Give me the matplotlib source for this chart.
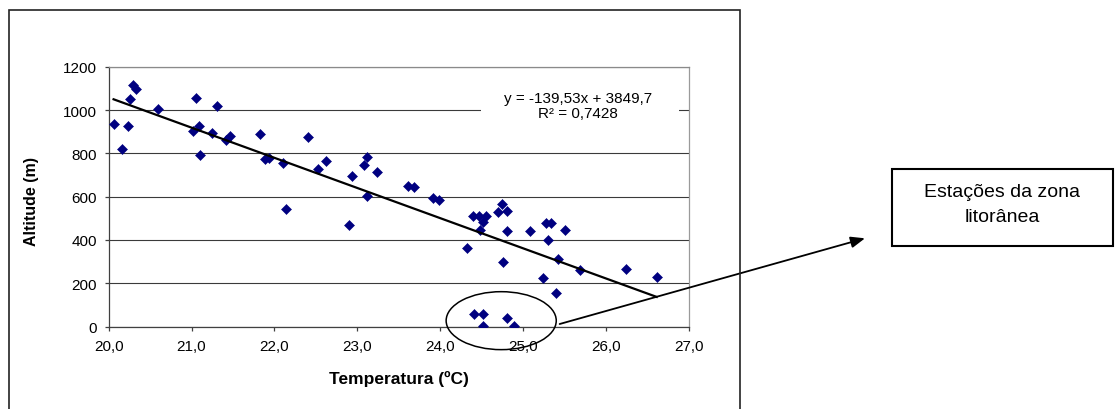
import matplotlib
matplotlib.use("Agg")
import matplotlib.pyplot as plt
from matplotlib.patches import Ellipse, Rectangle
import numpy as np

plt.rcParams['font.family'] = ['Liberation Sans', 'DejaVu Sans']

# ---- data ----
temperatura = [20.06, 20.16, 20.24, 20.26, 20.30, 20.33, 20.60,
               21.06, 21.02, 21.09, 21.10, 21.25, 21.31, 21.41, 21.46,
               21.83, 21.89, 21.93, 22.10, 22.14,
               22.40, 22.52, 22.62, 22.90, 22.94,
               23.08, 23.12, 23.12, 23.24,
               23.61, 23.68, 23.91, 23.99,
               24.32, 24.40, 24.47, 24.55, 24.51, 24.48,
               24.70, 24.75, 24.80, 24.80, 24.76,
               25.08, 25.24, 25.27, 25.34, 25.30, 25.50, 25.42, 25.40, 25.69,
               26.24, 26.61,
               24.41, 24.51, 24.51, 24.81, 24.89]
altitude = [936, 823, 929, 1051, 1116, 1097, 1008,
            1055, 906, 929, 793, 894, 1020, 863, 882,
            888, 775, 778, 756, 544,
            877, 727, 767, 470, 697,
            746, 782, 602, 715,
            651, 643, 596, 585,
            362, 512, 512, 512, 483, 448,
            531, 566, 535, 440, 297,
            440, 226, 477, 477, 398, 446, 311, 154, 262,
            266, 231,
            59, 59, 4, 41, 1]

slope = -139.53
intercept = 3849.7
r2_text = "0,7428"

x_ticks = [20, 21, 22, 23, 24, 25, 26, 27]
x_ticklabels = ["20,0", "21,0", "22,0", "23,0", "24,0", "25,0", "26,0", "27,0"]
y_ticks = [0, 200, 400, 600, 800, 1000, 1200]
box_lines = ["Estações da zona", "litorânea"]

# ---- figure ----
W, H = 1120, 410
fig = plt.figure(figsize=(W / 100, H / 100), dpi=100)

ax_left, ax_right, ax_top, ax_bottom = 108.6, 689.0, 68.0, 327.5
ax = fig.add_axes([ax_left / W, 1 - ax_bottom / H,
                   (ax_right - ax_left) / W, (ax_bottom - ax_top) / H])

ax.set_xlim(20, 27)
ax.set_ylim(0, 1200)

# grid
ax.set_axisbelow(True)
ax.yaxis.grid(True, color='#3a3a3a', linewidth=0.8)
ax.xaxis.grid(False)

# spines
ax.spines['left'].set_color('#404040')
ax.spines['bottom'].set_color('#404040')
ax.spines['right'].set_color('#9a9a9a')
ax.spines['top'].set_color('#8a8a8a')
for s in ax.spines.values():
    s.set_linewidth(0.9)

ax.set_xticks(x_ticks)
ax.set_xticklabels(x_ticklabels)
ax.set_yticks(y_ticks)
ax.set_yticklabels([str(v) for v in y_ticks])
ax.tick_params(axis='both', direction='out', length=3.2, width=0.9,
               color='#404040', labelsize=11, labelcolor='black')
ax.tick_params(axis='y', pad=5.0)
ax.tick_params(axis='x', pad=5.5)

# scatter points
ax.plot(temperatura, altitude, linestyle='none', marker='D',
        markersize=4.9, color='#000080', markeredgewidth=0.4,
        markeredgecolor='#000080', zorder=3)

# trendline
xt = np.array([min(temperatura), max(temperatura)])
ax.plot(xt, slope * xt + intercept, color='black', linewidth=1.6, zorder=4)

# equation label with white background
ax.add_patch(Rectangle((0.641, 0.783), 0.342, 0.138, transform=ax.transAxes,
                       facecolor='white', edgecolor='none', zorder=1.5))
eq = "y = -139,53x + 3849,7\nR² = " + r2_text
ax.text(0.8085, 0.852, eq, transform=ax.transAxes, ha='center', va='center',
        fontsize=11, linespacing=1.05, zorder=5, multialignment='center')

# axis labels
ax.set_xlabel("Temperatura (ºC)", fontsize=12.5, fontweight='bold')
ax.xaxis.set_label_coords(0.5, -0.198)
ax.xaxis.label.set_va('center')
ax.set_ylabel("Altitude (m)", fontsize=11.5, fontweight='bold')
ax.yaxis.set_label_coords(-0.132, 0.4865)
ax.yaxis.label.set_va('center')

# ellipse around coastal stations
ell = Ellipse((24.735, 27), 1.328, 268, facecolor='none', edgecolor='black',
              linewidth=1.1, clip_on=False, zorder=6)
ax.add_patch(ell)

# arrow to text box
ax.annotate('', xy=(865 / W, 1 - 239.3 / H), xycoords='figure fraction',
            xytext=(25.44, 11.5), textcoords='data',
            arrowprops=dict(arrowstyle='-|>,head_length=0.5,head_width=0.2',
                            mutation_scale=17, color='black', lw=1.3,
                            shrinkA=0, shrinkB=0),
            annotation_clip=False, zorder=7)

# chart outer border
fig.patches.append(Rectangle((9 / W, -0.05), (740 - 9) / W, 1.05 - 10.7 / H,
                             transform=fig.transFigure, facecolor='none',
                             edgecolor='#222222', linewidth=1.2))

# text box
fig.patches.append(Rectangle((891.7 / W, 1 - 247.3 / H), (1113.3 - 891.7) / W,
                             (247.3 - 170) / H, transform=fig.transFigure,
                             facecolor='white', edgecolor='black', linewidth=1.5))
fig.text(1002.5 / W, 1 - 193 / H, box_lines[0], ha='center', va='center',
         fontsize=14)
fig.text(1002.5 / W, 1 - 218 / H, box_lines[1], ha='center', va='center',
         fontsize=14)

fig.savefig("out.png", dpi=100)
